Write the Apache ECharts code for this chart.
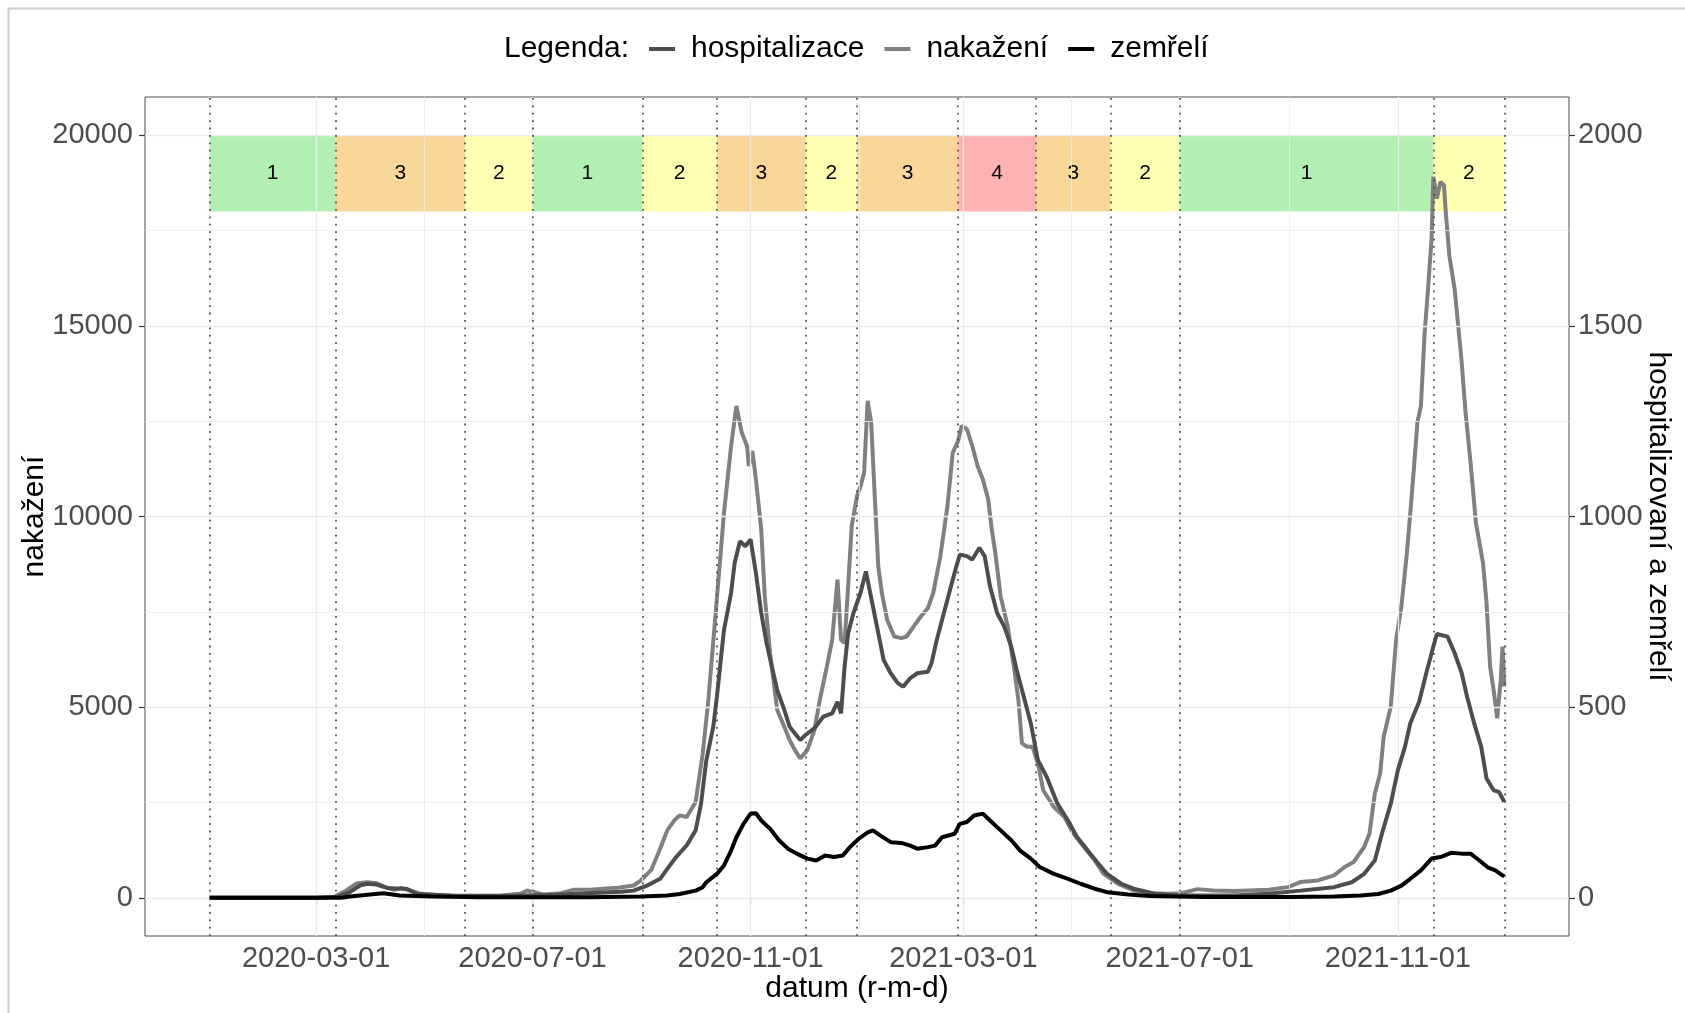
<!DOCTYPE html>
<html>
<head>
<meta charset="utf-8">
<script src="https://cdn.jsdelivr.net/npm/echarts@6/dist/echarts.min.js"></script>
<style>
html,body{margin:0;padding:0;background:#fff;}
#chart{width:1685px;height:1013px;}
</style>
</head>
<body>
<div id="chart"></div>
<script>
// ---------- data ----------
const infDates = ['2020-01-01','2020-03-01','2020-03-11','2020-03-18','2020-03-24','2020-03-30','2020-04-04','2020-04-09','2020-04-14','2020-04-18','2020-04-23','2020-04-29','2020-05-10','2020-05-25','2020-06-13','2020-06-24','2020-06-28','2020-07-02','2020-07-07','2020-07-17','2020-07-24','2020-08-04','2020-08-18','2020-08-27','2020-08-31','2020-09-06','2020-09-11','2020-09-15','2020-09-19','2020-09-22','2020-09-26','2020-10-01','2020-10-05','2020-10-08','2020-10-12','2020-10-17','2020-10-21','2020-10-24','2020-10-27','2020-10-30','2020-10-31','2020-11-02','2020-11-04','2020-11-07','2020-11-09','2020-11-12','2020-11-16','2020-11-20','2020-11-23','2020-11-26','2020-11-29','2020-12-03','2020-12-07','2020-12-10','2020-12-14','2020-12-17','2020-12-20','2020-12-22','2020-12-24','2020-12-26','2020-12-28','2020-12-31','2021-01-02','2021-01-04','2021-01-06','2021-01-08','2021-01-10','2021-01-12','2021-01-14','2021-01-17','2021-01-21','2021-01-25','2021-01-28','2021-02-01','2021-02-05','2021-02-09','2021-02-12','2021-02-16','2021-02-20','2021-02-23','2021-02-26','2021-02-28','2021-03-03','2021-03-06','2021-03-09','2021-03-12','2021-03-15','2021-03-17','2021-03-19','2021-03-22','2021-03-26','2021-03-30','2021-04-01','2021-04-03','2021-04-06','2021-04-09','2021-04-12','2021-04-15','2021-04-21','2021-04-27','2021-05-02','2021-05-08','2021-05-14','2021-05-19','2021-05-27','2021-06-05','2021-06-15','2021-06-24','2021-07-02','2021-07-11','2021-07-20','2021-08-01','2021-08-20','2021-08-31','2021-09-07','2021-09-17','2021-09-26','2021-10-02','2021-10-07','2021-10-13','2021-10-16','2021-10-19','2021-10-22','2021-10-24','2021-10-28','2021-10-31','2021-11-03','2021-11-06','2021-11-08','2021-11-10','2021-11-12','2021-11-14','2021-11-16','2021-11-18','2021-11-20','2021-11-21','2021-11-23','2021-11-25','2021-11-27','2021-11-28','2021-11-30','2021-12-03','2021-12-07','2021-12-09','2021-12-12','2021-12-15','2021-12-19','2021-12-21','2021-12-23','2021-12-25','2021-12-27','2021-12-29','2021-12-30','2021-12-31'];
const infValues = [0,0,20,193,385,412,385,280,210,263,193,105,61,44,61,105,193,149,88,123,210,219,263,324,455,736,1288,1770,2033,2164,2121,2515,3786,5100,7300,10097,11849,12900,12201,11849,11323,11717,10973,9659,7906,6417,4927,4488,4138,3875,3657,3875,4400,5189,6065,6767,8344,6767,6680,8168,9746,10535,10798,11150,13032,12464,10535,8694,7995,7293,6854,6811,6854,7117,7380,7600,7995,8957,10272,11675,11980,12375,12288,11849,11323,10973,10448,9659,9047,7906,7117,5891,5190,4051,3962,3960,3525,2823,2384,2121,1685,1333,983,634,371,195,124,105,124,229,195,177,212,282,414,458,589,808,939,1333,1685,2736,3262,4225,5014,6767,7642,9000,10097,11236,12464,12901,14741,15969,17282,18905,18335,18773,18686,17985,16845,15969,14041,12814,11412,9835,8783,7731,6065,5452,4708,5715,6591,5540];

const hospDates = ['2020-01-01','2020-03-01','2020-03-13','2020-03-20','2020-03-26','2020-03-30','2020-04-04','2020-04-10','2020-04-17','2020-04-21','2020-04-27','2020-05-16','2020-06-15','2020-07-15','2020-08-01','2020-08-20','2020-08-27','2020-09-04','2020-09-11','2020-09-15','2020-09-20','2020-09-26','2020-10-01','2020-10-04','2020-10-07','2020-10-11','2020-10-13','2020-10-17','2020-10-21','2020-10-23','2020-10-26','2020-10-29','2020-11-01','2020-11-04','2020-11-07','2020-11-10','2020-11-13','2020-11-16','2020-11-20','2020-11-23','2020-11-26','2020-11-29','2020-12-02','2020-12-07','2020-12-12','2020-12-17','2020-12-20','2020-12-22','2020-12-24','2020-12-26','2020-12-29','2021-01-02','2021-01-05','2021-01-09','2021-01-12','2021-01-15','2021-01-19','2021-01-23','2021-01-26','2021-01-30','2021-02-03','2021-02-09','2021-02-11','2021-02-14','2021-02-18','2021-02-22','2021-02-25','2021-02-27','2021-03-03','2021-03-06','2021-03-10','2021-03-13','2021-03-16','2021-03-20','2021-03-24','2021-03-28','2021-03-31','2021-04-04','2021-04-08','2021-04-12','2021-04-17','2021-04-23','2021-04-29','2021-05-04','2021-05-10','2021-05-16','2021-05-21','2021-05-29','2021-06-05','2021-06-17','2021-06-30','2021-08-01','2021-08-20','2021-09-07','2021-09-26','2021-10-06','2021-10-13','2021-10-19','2021-10-23','2021-10-28','2021-11-01','2021-11-05','2021-11-08','2021-11-13','2021-11-17','2021-11-21','2021-11-23','2021-11-29','2021-12-03','2021-12-07','2021-12-10','2021-12-14','2021-12-18','2021-12-21','2021-12-25','2021-12-28','2021-12-31'];
const hospValues = [0,0,3,15,33,37,35,26,24,24,10,6,5,8,12,16,19,33,50,76,107,138,177,245,360,450,528,703,800,878,935,922,940,852,747,668,606,545,493,449,431,414,427,445,475,484,514,484,606,694,747,800,856,764,694,624,589,563,554,576,589,593,615,677,747,817,869,900,896,887,918,896,817,747,712,659,598,528,458,361,317,247,203,160,125,90,63,37,24,11,6,6,11,19,28,41,63,98,168,247,335,396,458,514,589,659,692,685,642,589,528,458,396,313,282,278,252];

const deathDates = ['2020-01-01','2020-03-15','2020-03-20','2020-03-30','2020-04-08','2020-04-17','2020-05-06','2020-06-01','2020-08-01','2020-08-31','2020-09-15','2020-09-22','2020-10-01','2020-10-05','2020-10-07','2020-10-13','2020-10-17','2020-10-21','2020-10-24','2020-10-28','2020-11-01','2020-11-04','2020-11-07','2020-11-12','2020-11-17','2020-11-22','2020-11-27','2020-12-03','2020-12-08','2020-12-13','2020-12-18','2020-12-23','2020-12-27','2021-01-01','2021-01-06','2021-01-09','2021-01-13','2021-01-19','2021-01-25','2021-01-30','2021-02-03','2021-02-09','2021-02-13','2021-02-17','2021-02-24','2021-02-27','2021-03-03','2021-03-07','2021-03-12','2021-03-16','2021-03-22','2021-03-28','2021-04-02','2021-04-08','2021-04-13','2021-04-21','2021-04-29','2021-05-06','2021-05-14','2021-05-21','2021-06-02','2021-06-14','2021-07-15','2021-09-01','2021-09-26','2021-10-11','2021-10-21','2021-10-28','2021-11-03','2021-11-08','2021-11-14','2021-11-20','2021-11-25','2021-12-01','2021-12-07','2021-12-12','2021-12-17','2021-12-22','2021-12-26','2021-12-30','2021-12-31'];
const deathValues = [0,0,3.5,8,12,6,3.5,1.5,1.5,3.5,6,10,19,28,41,63,85,124,159,194,221,222,203,181,151,129,116,103,98,111,107,111,133,155,172,177,164,146,144,137,129,133,137,159,168,194,199,216,221,203,177,151,124,103,81,63,50,37,24,15,9,5,2,2,3.5,6,10,19,32,50,72,103,107,118,116,116,98,79,72,59,57];

// phases (boundaries and levels)
const phaseBounds = ['2020-01-01','2020-03-12','2020-05-24','2020-07-01','2020-09-01','2020-10-13','2020-12-02','2020-12-31','2021-02-26','2021-04-11','2021-05-23','2021-07-01','2021-11-21','2021-12-31'];
const phaseLevels = [1,3,2,1,2,3,2,3,4,3,2,1,2];

// ticks
const xTickDates = ['2020-03-01','2020-07-01','2020-11-01','2021-03-01','2021-07-01','2021-11-01'];
const xMinorDates = ['2020-01-01','2020-05-01','2020-09-01','2021-01-01','2021-05-01','2021-09-01','2022-01-01'];
const yLeftTicks = [0,5000,10000,15000,20000];
const yLeftMinor = [2500,7500,12500,17500];
const yRightTicks = [0,500,1000,1500,2000];

// ---------- helpers ----------
function t(s){const p=s.split('-').map(Number);return Date.UTC(p[0],p[1]-1,p[2]);}
function pad(n){return (n<10?'0':'')+n;}
function fmt(v){const d=new Date(v);return d.getUTCFullYear()+'-'+pad(d.getUTCMonth()+1)+'-'+pad(d.getUTCDate());}
function zip(ds,vs){return ds.map((d,i)=>[t(d),vs[i]]);}

const dStart=t(infDates[0]), dEnd=t(infDates[infDates.length-1]);
const span=dEnd-dStart;
const xMin=dStart-0.05*span, xMax=dEnd+0.05*span;
const yTop=20000, yMinL=-0.05*yTop, yMaxL=yTop*1.05;
const rTop=2000, yMinR=-0.05*rTop, yMaxR=rTop*1.05;

const levelStyle={1:{color:'#00cd00',opacity:0.3},2:{color:'#ffff00',opacity:0.3},3:{color:'#ee9a00',opacity:0.4},4:{color:'#ff0000',opacity:0.3}};

const FONT='"Liberation Sans", Arial, Helvetica, sans-serif';
const LW=4;

const gridLines=[];
yLeftTicks.forEach(v=>gridLines.push({yAxis:v,lineStyle:{color:'#ebebeb',width:1.3,type:'solid'}}));
yLeftMinor.forEach(v=>gridLines.push({yAxis:v,lineStyle:{color:'#ebebeb',width:0.8,type:'solid'}}));
xTickDates.forEach(d=>gridLines.push({xAxis:t(d),lineStyle:{color:'#ebebeb',width:1.3,type:'solid'}}));
xMinorDates.forEach(d=>gridLines.push({xAxis:t(d),lineStyle:{color:'#ebebeb',width:0.8,type:'solid'}}));

const areas=phaseLevels.map((lv,i)=>[
  {name:String(lv),xAxis:t(phaseBounds[i]),yAxis:18000,itemStyle:levelStyle[lv]},
  {xAxis:t(phaseBounds[i+1]),yAxis:20000}
]);
const vlines=phaseBounds.map(d=>({xAxis:t(d)}));

const chart=echarts.init(document.getElementById('chart'),null,{renderer:'canvas'});
chart.setOption({
  animation:false,
  backgroundColor:'#ffffff',
  textStyle:{fontFamily:FONT},
  grid:{left:145,right:116,top:97,bottom:77,show:true,borderColor:'#4d4d4d',borderWidth:1,backgroundColor:'transparent',containLabel:false,outerBoundsMode:'none'},
  legend:{
    data:['hospitalizace','nakažení','zemřelí'],
    left:649, top:34, padding:0,
    icon:'rect', itemWidth:26, itemHeight:4, itemGap:20,
    textStyle:{fontSize:30,color:'#000',fontFamily:FONT,padding:[0,0,0,11]}
  },
  graphic:[
    {type:'text',left:504,top:34,style:{text:'Legenda:',font:'30px '+FONT,fill:'#000'}},
    {type:'line',shape:{x1:8.5,y1:8,x2:8.5,y2:1013},style:{stroke:'#cccccc',lineWidth:2}},
    {type:'line',shape:{x1:8,y1:8.5,x2:1685,y2:8.5},style:{stroke:'#cccccc',lineWidth:2}}
  ],
  xAxis:{
    type:'value', min:xMin, max:xMax,
    axisLine:{show:false},
    axisTick:{show:true,customValues:xTickDates.map(t),length:6,lineStyle:{color:'#333',width:1.2}},
    axisLabel:{customValues:xTickDates.map(t),formatter:v=>fmt(v),fontSize:29,color:'#4d4d4d',margin:8,fontFamily:FONT,hideOverlap:false},
    splitLine:{show:false}, minorSplitLine:{show:false},
    name:'datum (r-m-d)', nameLocation:'middle', nameGap:38, nameMoveOverlap:false,
    nameTextStyle:{fontSize:30,color:'#000',fontFamily:FONT}
  },
  yAxis:[
    {type:'value',min:yMinL,max:yMaxL,position:'left',
     axisLine:{show:false},
     axisTick:{show:true,customValues:yLeftTicks,length:6,lineStyle:{color:'#333',width:1.2}},
     axisLabel:{customValues:yLeftTicks,formatter:v=>String(v),fontSize:29,color:'#4d4d4d',margin:12,fontFamily:FONT},
     splitLine:{show:false},
     name:'nakažení',nameLocation:'middle',nameRotate:90,nameGap:95,nameMoveOverlap:false,
     nameTextStyle:{fontSize:30,color:'#000',fontFamily:FONT}},
    {type:'value',min:yMinR,max:yMaxR,position:'right',
     axisLine:{show:false},
     axisTick:{show:true,customValues:yRightTicks,length:6,lineStyle:{color:'#333',width:1.2}},
     axisLabel:{customValues:yRightTicks,formatter:v=>String(v),fontSize:29,color:'#4d4d4d',margin:9,fontFamily:FONT},
     splitLine:{show:false},
     name:'hospitalizovaní a zemřelí',nameLocation:'middle',nameRotate:-90,nameGap:74,nameMoveOverlap:false,
     nameTextStyle:{fontSize:30,color:'#000',fontFamily:FONT}}
  ],
  series:[
    {type:'line',name:'_grid',data:[],yAxisIndex:0,z:1,silent:true,
     markLine:{silent:true,symbol:'none',animation:false,label:{show:false},emphasis:{disabled:true},data:gridLines}},
    {type:'line',name:'_phases',data:[],yAxisIndex:0,z:2,silent:true,
     markArea:{silent:true,animation:false,emphasis:{disabled:true},
       label:{show:true,position:'inside',fontSize:21,color:'#000',fontFamily:FONT},
       data:areas}},
    {type:'line',name:'_vlines',data:[],yAxisIndex:0,z:3,silent:true,
     markLine:{silent:true,symbol:'none',animation:false,label:{show:false},emphasis:{disabled:true},
       lineStyle:{color:'#555555',width:1.8,type:[1.8,5.6],cap:'butt'},data:vlines}},
    {type:'line',name:'hospitalizace',yAxisIndex:1,z:5,data:zip(hospDates,hospValues),
     showSymbol:false,symbol:'none',color:'#4d4d4d',lineStyle:{color:'#4d4d4d',width:LW},emphasis:{disabled:true}},
    {type:'line',name:'nakažení',yAxisIndex:0,z:4,data:zip(infDates,infValues),
     showSymbol:false,symbol:'none',color:'#808080',lineStyle:{color:'#808080',width:LW},emphasis:{disabled:true}},
    {type:'line',name:'zemřelí',yAxisIndex:1,z:6,data:zip(deathDates,deathValues),
     showSymbol:false,symbol:'none',color:'#000000',lineStyle:{color:'#000000',width:LW},emphasis:{disabled:true}}
  ]
});
</script>
</body>
</html>
